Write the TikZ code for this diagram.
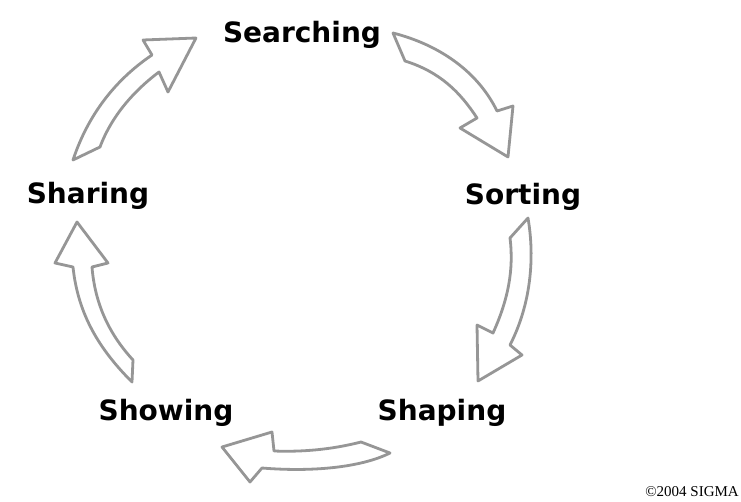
\documentclass[tikz,border=0pt]{standalone}
\usepackage{fontspec}
\setmainfont{Liberation Serif}
\newfontfamily\labfont{DejaVu Sans}
\definecolor{sketch}{RGB}{150,150,150}
\begin{document}
\begin{tikzpicture}[x=1pt,y=-1pt,
  blockarrow/.style={draw=sketch, line width=2.8pt, fill=white, line join=round, line cap=round},
  stage/.style={font=\labfont\bfseries\fontsize{28}{30}\selectfont, anchor=base, inner sep=0pt},
  credit/.style={font=\fontsize{15}{17}\selectfont, anchor=base east, inner sep=0pt}]
\useasboundingbox (0,0) rectangle (741,502);
% labels
\node[stage] (searching) at (302,43) {Searching};
\node[stage] (sorting)   at (523,205) {Sorting};
\node[stage] (shaping)   at (442,420) {Shaping};
\node[stage] (showing)   at (166,420) {Showing};
\node[stage] (sharing)   at (88,204) {Sharing};
\node[credit] (copy) at (739,496) {©2004 SIGMA};
% arrow 1: Sharing -> Searching
\draw[blockarrow] (73,160) .. controls (88,115) and (115,80) .. (152,55)
  -- (143,40) -- (196,38) -- (168,92) -- (159,72)
  .. controls (135,90) and (112,115) .. (100,147) -- cycle;
% arrow 2: Searching -> Sorting
\draw[blockarrow] (393,33) .. controls (440,45) and (478,72) .. (497,111)
  -- (513,106) -- (508,157) -- (460,128) -- (477,118)
  .. controls (460,92) and (440,72) .. (405,61) -- cycle;
% arrow 3: Sorting -> Shaping
\draw[blockarrow] (528,218) .. controls (536,265) and (528,310) .. (510,345)
  -- (522,355) -- (478,381) -- (477,325) -- (493,333)
  .. controls (508,300) and (514,270) .. (510,238) -- cycle;
% arrow 4: Shaping -> Showing
\draw[blockarrow] (361,442) .. controls (330,450) and (300,452) .. (274,451)
  -- (272,432) -- (222,447) -- (250,482) -- (262,468)
  .. controls (310,472) and (360,468) .. (390,453) -- cycle;
% arrow 5: Showing -> Sharing
\draw[blockarrow] (132,382) .. controls (100,350) and (78,315) .. (73,267)
  -- (55,263) -- (77,222) -- (108,263) -- (92,267)
  .. controls (95,305) and (110,335) .. (133,360) -- cycle;
\end{tikzpicture}
\end{document}
